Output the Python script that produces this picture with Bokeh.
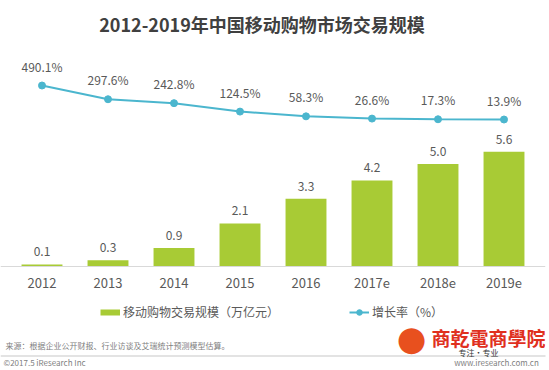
from bokeh.plotting import figure
from bokeh.models import (FactorRange, Range1d, Label, Legend, LegendItem,
                          ColumnDataSource, BoxAnnotation, Span)
from bokeh.embed import file_html
from bokeh.resources import INLINE
from bokeh.core.properties import value

# ---- data ----
years = ["2012", "2013", "2014", "2015", "2016", "2017e", "2018e", "2019e"]
scale = [0.1, 0.3, 0.9, 2.1, 3.3, 4.2, 5.0, 5.6]          # 万亿元
growth = [490.1, 297.6, 242.8, 124.5, 58.3, 26.6, 17.3, 13.9]  # %
scale_labels = ["0.1", "0.3", "0.9", "2.1", "3.3", "4.2", "5.0", "5.6"]
growth_labels = ["490.1%", "297.6%", "242.8%", "124.5%", "58.3%", "26.6%", "17.3%", "13.9%"]

title = "2012-2019年中国移动购物市场交易规模"
bar_name = "移动购物交易规模（万亿元）"
line_name = "增长率（%）"
source_note = "来源：根据企业公开财报、行业访谈及艾瑞统计预测模型估算。"
copyright = "©2017.5 iResearch Inc"

GREEN = "#A8CB35"
BLUE = "#4BB6CE"
TXT = "#595959"
FONT = "Noto Sans CJK SC"

# ---- layout (page pixels) ----
W, H = 549, 370
RB = 4           # right border
FW = W - RB      # frame width
BASE = 266       # bar baseline (page y)
PX_BAR = 20.5    # px per 万亿元
G_REF_Y, G_REF = 119, 13.9
PX_G = 34 / 476.2  # px per %

bar_lo = (BASE - H) / PX_BAR
bar_hi = BASE / PX_BAR
g_hi = G_REF + G_REF_Y / PX_G
g_lo = G_REF - (H - G_REF_Y) / PX_G

nan = float("nan")
src = ColumnDataSource(dict(year=years, scale=scale, growth=growth,
                            sl=scale_labels, gl=growth_labels,
                            zero=[0] * len(years), blank=[nan] * len(years)))

span_units = FW / 66.0
p = figure(width=W, height=H,
           x_range=FactorRange(factors=years,
                               range_padding=(span_units - len(years)) / len(years)),
           y_range=Range1d(bar_lo, bar_hi), output_backend="svg",
           toolbar_location=None, x_axis_location=None, y_axis_location=None,
           min_border=0, min_border_right=RB, outline_line_color=None)
p.extra_y_ranges = {"g": Range1d(g_lo, g_hi)}
p.xgrid.visible = False
p.ygrid.visible = False

# axis line & category labels
p.add_layout(Span(location=0, dimension="width", line_color="#D9D9D9",
                  line_width=1))
p.text(x="year", y="zero", text="year", source=src, text_align="center",
       text_baseline="middle", y_offset=16, text_font=value(FONT),
       text_font_size="13px", text_color=TXT)

p.vbar(x="year", top="scale", width=0.62, source=src, fill_color=GREEN,
       line_color=None)
p.text(x="year", y="scale", text="sl", source=src, text_align="center",
       text_baseline="bottom", y_offset=-8, text_font=value(FONT),
       text_font_size="12px", text_color=TXT)

line_r = p.line(x="year", y="growth", source=src, y_range_name="g",
                line_color=BLUE, line_width=2)
dot_r = p.scatter(x="year", y="growth", source=src, y_range_name="g",
                  size=7, fill_color=BLUE, line_color=BLUE)
p.text(x="year", y="growth", text="gl", source=src, y_range_name="g",
       text_align="center", text_baseline="bottom", y_offset=-11,
       text_font=value(FONT), text_font_size="12px", text_color=TXT)

# legend proxy for bars (draws nothing in the plot)
bar_proxy = p.line(x="year", y="blank", source=src, line_color=GREEN,
                   line_width=6)


def sx(X):
    return X


def sy(Y):
    return H - Y


legend = Legend(items=[LegendItem(label=bar_name, renderers=[bar_proxy]),
                       LegendItem(label=line_name, renderers=[line_r, dot_r])],
                orientation="horizontal", location=(sx(100), sy(320)),
                glyph_width=20, glyph_height=14, label_standoff=3,
                spacing=70, padding=0, margin=0, border_line_color=None,
                background_fill_alpha=0, label_text_font=FONT,
                label_text_font_size="12px", label_text_color=TXT,
                label_height=14)
p.add_layout(legend)


def lab(X, Y, text, size, color, align="left", style="normal", font=FONT):
    p.add_layout(Label(x=sx(X), y=sy(Y), x_units="screen", y_units="screen",
                       text=text, text_align=align, text_baseline="middle",
                       text_font=font, text_font_size=size,
                       text_font_style=style, text_color=color))


lab(261.5, 23, title, "18px", "#404040", align="center", style="bold")
lab(5, 345, source_note, "8px", "#808080")
lab(3, 362, copyright, "8px", "#808080")

p.add_layout(BoxAnnotation(left=sx(0), right=sx(W), top=sy(355),
                           bottom=sy(356), left_units="screen",
                           right_units="screen", top_units="screen",
                           bottom_units="screen", fill_color="#C8C8C8",
                           fill_alpha=1, line_color=None))

# watermark
lab(411, 337, "●", "34px", "#E8501E", align="center", font="DejaVu Sans")
lab(431, 337, "商乾電商學院", "19px", "#E0301E", style="bold")
lab(478, 352, "专注·专业", "8px", "#333333", align="center")
lab(496, 362, "www.iresearch.com.cn", "8px", "#808080", align="center")

open("out.html", "w").write(file_html(p, INLINE))
